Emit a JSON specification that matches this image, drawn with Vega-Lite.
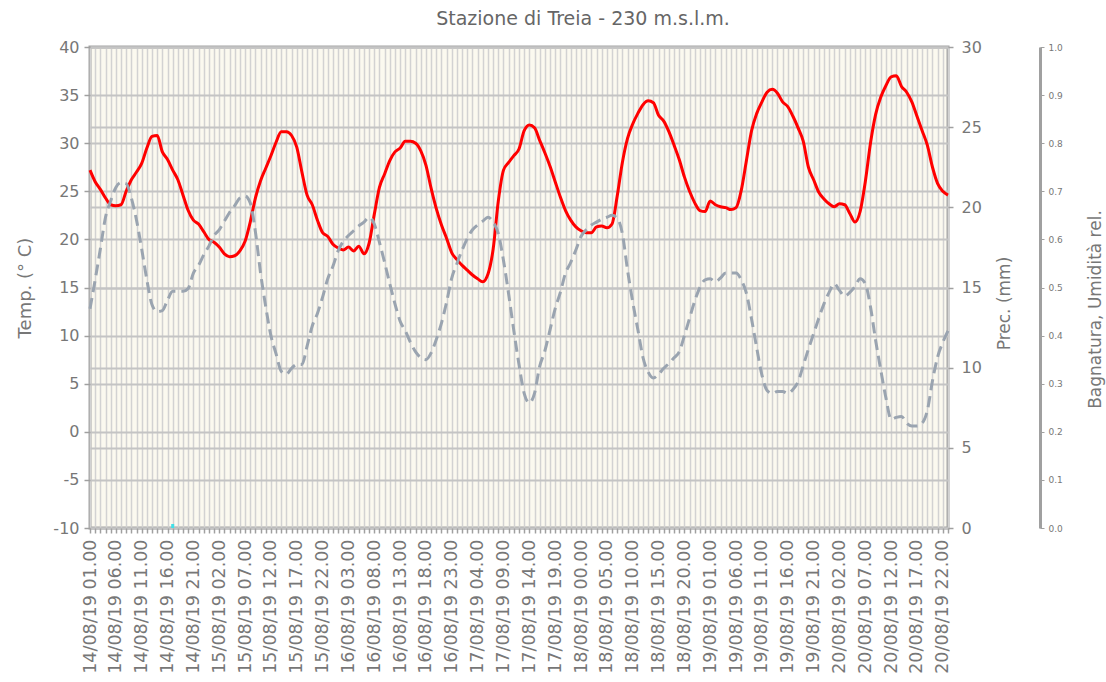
{
"$schema": "https://vega.github.io/schema/vega-lite/v6.json",
"width": 858, "height": 481,
"autosize": {"type": "none"},
"padding": {"left": 90, "top": 47, "right": 158, "bottom": 154},
"background": "white",
"title": {"text": "Stazione di Treia - 230 m.s.l.m.", "font": "DejaVu Sans", "fontSize": 19, "fontWeight": "normal", "color": "#666666", "anchor": "middle", "dx": 64, "offset": 10},
"config": {
  "view": {"fill": "#fbf9ef", "stroke": "#a3a3a3", "strokeWidth": 3},
  "axis": {"labelFont": "DejaVu Sans", "titleFont": "DejaVu Sans", "labelColor": "#777777", "titleColor": "#777777", "titleFontWeight": "normal", "tickColor": "#a0a0a0"}
},
"data": {"values": [
{"t":"14/08/19 01.00","temp":27.2,"hum":0.456},
{"t":"14/08/19 02.00","temp":26.0,"hum":0.516},
{"t":"14/08/19 03.00","temp":25.2,"hum":0.58},
{"t":"14/08/19 04.00","temp":24.3,"hum":0.646},
{"t":"14/08/19 05.00","temp":23.6,"hum":0.68},
{"t":"14/08/19 06.00","temp":23.5,"hum":0.708},
{"t":"14/08/19 07.00","temp":23.6,"hum":0.718},
{"t":"14/08/19 08.00","temp":25.0,"hum":0.716},
{"t":"14/08/19 09.00","temp":26.2,"hum":0.686},
{"t":"14/08/19 10.00","temp":27.0,"hum":0.64},
{"t":"14/08/19 11.00","temp":27.9,"hum":0.58},
{"t":"14/08/19 12.00","temp":29.5,"hum":0.516},
{"t":"14/08/19 13.00","temp":30.7,"hum":0.464},
{"t":"14/08/19 14.00","temp":30.8,"hum":0.45},
{"t":"14/08/19 15.00","temp":29.1,"hum":0.452},
{"t":"14/08/19 16.00","temp":28.3,"hum":0.474},
{"t":"14/08/19 17.00","temp":27.2,"hum":0.492,"prec":0.25},
{"t":"14/08/19 18.00","temp":26.2,"hum":0.492},
{"t":"14/08/19 19.00","temp":24.6,"hum":0.492},
{"t":"14/08/19 20.00","temp":23.0,"hum":0.498},
{"t":"14/08/19 21.00","temp":22.0,"hum":0.53},
{"t":"14/08/19 22.00","temp":21.6,"hum":0.546},
{"t":"14/08/19 23.00","temp":20.8,"hum":0.568},
{"t":"15/08/19 00.00","temp":20.0,"hum":0.586},
{"t":"15/08/19 01.00","temp":19.7,"hum":0.608},
{"t":"15/08/19 02.00","temp":19.2,"hum":0.62},
{"t":"15/08/19 03.00","temp":18.5,"hum":0.638},
{"t":"15/08/19 04.00","temp":18.2,"hum":0.656},
{"t":"15/08/19 05.00","temp":18.3,"hum":0.67},
{"t":"15/08/19 06.00","temp":18.8,"hum":0.686},
{"t":"15/08/19 07.00","temp":19.8,"hum":0.69},
{"t":"15/08/19 08.00","temp":21.8,"hum":0.676},
{"t":"15/08/19 09.00","temp":24.3,"hum":0.616},
{"t":"15/08/19 10.00","temp":26.1,"hum":0.53},
{"t":"15/08/19 11.00","temp":27.4,"hum":0.46},
{"t":"15/08/19 12.00","temp":28.7,"hum":0.4},
{"t":"15/08/19 13.00","temp":30.1,"hum":0.362},
{"t":"15/08/19 14.00","temp":31.2,"hum":0.326},
{"t":"15/08/19 15.00","temp":31.2,"hum":0.32},
{"t":"15/08/19 16.00","temp":30.8,"hum":0.332},
{"t":"15/08/19 17.00","temp":29.6,"hum":0.34},
{"t":"15/08/19 18.00","temp":27.0,"hum":0.34},
{"t":"15/08/19 19.00","temp":24.6,"hum":0.378},
{"t":"15/08/19 20.00","temp":23.6,"hum":0.42},
{"t":"15/08/19 21.00","temp":22.0,"hum":0.446},
{"t":"15/08/19 22.00","temp":20.7,"hum":0.48},
{"t":"15/08/19 23.00","temp":20.3,"hum":0.518},
{"t":"16/08/19 00.00","temp":19.5,"hum":0.544},
{"t":"16/08/19 01.00","temp":19.1,"hum":0.576},
{"t":"16/08/19 02.00","temp":18.9,"hum":0.596},
{"t":"16/08/19 03.00","temp":19.2,"hum":0.608},
{"t":"16/08/19 04.00","temp":18.8,"hum":0.618},
{"t":"16/08/19 05.00","temp":19.3,"hum":0.628},
{"t":"16/08/19 06.00","temp":18.5,"hum":0.636},
{"t":"16/08/19 07.00","temp":19.6,"hum":0.646},
{"t":"16/08/19 08.00","temp":22.6,"hum":0.632},
{"t":"16/08/19 09.00","temp":25.4,"hum":0.594},
{"t":"16/08/19 10.00","temp":26.8,"hum":0.552},
{"t":"16/08/19 11.00","temp":28.2,"hum":0.508},
{"t":"16/08/19 12.00","temp":29.1,"hum":0.466},
{"t":"16/08/19 13.00","temp":29.5,"hum":0.43},
{"t":"16/08/19 14.00","temp":30.2,"hum":0.41},
{"t":"16/08/19 15.00","temp":30.2,"hum":0.386},
{"t":"16/08/19 16.00","temp":30.0,"hum":0.366},
{"t":"16/08/19 17.00","temp":29.2,"hum":0.354},
{"t":"16/08/19 18.00","temp":27.7,"hum":0.35},
{"t":"16/08/19 19.00","temp":25.3,"hum":0.364},
{"t":"16/08/19 20.00","temp":23.2,"hum":0.392},
{"t":"16/08/19 21.00","temp":21.5,"hum":0.426},
{"t":"16/08/19 22.00","temp":20.1,"hum":0.47},
{"t":"16/08/19 23.00","temp":18.6,"hum":0.52},
{"t":"17/08/19 00.00","temp":17.9,"hum":0.55},
{"t":"17/08/19 01.00","temp":17.3,"hum":0.578},
{"t":"17/08/19 02.00","temp":16.8,"hum":0.602},
{"t":"17/08/19 03.00","temp":16.3,"hum":0.62},
{"t":"17/08/19 04.00","temp":15.9,"hum":0.63},
{"t":"17/08/19 05.00","temp":15.6,"hum":0.638},
{"t":"17/08/19 06.00","temp":16.4,"hum":0.646},
{"t":"17/08/19 07.00","temp":19.0,"hum":0.636},
{"t":"17/08/19 08.00","temp":24.0,"hum":0.612},
{"t":"17/08/19 09.00","temp":27.2,"hum":0.556},
{"t":"17/08/19 10.00","temp":28.0,"hum":0.486},
{"t":"17/08/19 11.00","temp":28.7,"hum":0.41},
{"t":"17/08/19 12.00","temp":29.4,"hum":0.34},
{"t":"17/08/19 13.00","temp":31.3,"hum":0.28},
{"t":"17/08/19 14.00","temp":31.9,"hum":0.26},
{"t":"17/08/19 15.00","temp":31.6,"hum":0.28},
{"t":"17/08/19 16.00","temp":30.3,"hum":0.336},
{"t":"17/08/19 17.00","temp":29.0,"hum":0.368},
{"t":"17/08/19 18.00","temp":27.6,"hum":0.412},
{"t":"17/08/19 19.00","temp":26.0,"hum":0.456},
{"t":"17/08/19 20.00","temp":24.4,"hum":0.49},
{"t":"17/08/19 21.00","temp":23.0,"hum":0.53},
{"t":"17/08/19 22.00","temp":22.0,"hum":0.552},
{"t":"17/08/19 23.00","temp":21.3,"hum":0.578},
{"t":"18/08/19 00.00","temp":20.9,"hum":0.606},
{"t":"18/08/19 01.00","temp":20.7,"hum":0.62},
{"t":"18/08/19 02.00","temp":20.7,"hum":0.63},
{"t":"18/08/19 03.00","temp":21.3,"hum":0.636},
{"t":"18/08/19 04.00","temp":21.4,"hum":0.642},
{"t":"18/08/19 05.00","temp":21.2,"hum":0.646},
{"t":"18/08/19 06.00","temp":21.6,"hum":0.65},
{"t":"18/08/19 07.00","temp":24.5,"hum":0.644},
{"t":"18/08/19 08.00","temp":28.0,"hum":0.612},
{"t":"18/08/19 09.00","temp":30.5,"hum":0.536},
{"t":"18/08/19 10.00","temp":32.0,"hum":0.47},
{"t":"18/08/19 11.00","temp":33.1,"hum":0.412},
{"t":"18/08/19 12.00","temp":34.0,"hum":0.354},
{"t":"18/08/19 13.00","temp":34.4,"hum":0.324},
{"t":"18/08/19 14.00","temp":34.2,"hum":0.312},
{"t":"18/08/19 15.00","temp":32.9,"hum":0.32},
{"t":"18/08/19 16.00","temp":32.3,"hum":0.332},
{"t":"18/08/19 17.00","temp":31.2,"hum":0.342},
{"t":"18/08/19 18.00","temp":29.8,"hum":0.354},
{"t":"18/08/19 19.00","temp":28.3,"hum":0.366},
{"t":"18/08/19 20.00","temp":26.5,"hum":0.4},
{"t":"18/08/19 21.00","temp":25.0,"hum":0.436},
{"t":"18/08/19 22.00","temp":23.8,"hum":0.472},
{"t":"18/08/19 23.00","temp":23.0,"hum":0.5},
{"t":"19/08/19 00.00","temp":22.9,"hum":0.516},
{"t":"19/08/19 01.00","temp":24.0,"hum":0.518},
{"t":"19/08/19 02.00","temp":23.6,"hum":0.512},
{"t":"19/08/19 03.00","temp":23.4,"hum":0.52},
{"t":"19/08/19 04.00","temp":23.3,"hum":0.53},
{"t":"19/08/19 05.00","temp":23.1,"hum":0.53},
{"t":"19/08/19 06.00","temp":23.3,"hum":0.53},
{"t":"19/08/19 07.00","temp":25.1,"hum":0.516},
{"t":"19/08/19 08.00","temp":28.2,"hum":0.488},
{"t":"19/08/19 09.00","temp":31.3,"hum":0.434},
{"t":"19/08/19 10.00","temp":33.1,"hum":0.374},
{"t":"19/08/19 11.00","temp":34.3,"hum":0.318},
{"t":"19/08/19 12.00","temp":35.3,"hum":0.286},
{"t":"19/08/19 13.00","temp":35.6,"hum":0.28},
{"t":"19/08/19 14.00","temp":35.2,"hum":0.284},
{"t":"19/08/19 15.00","temp":34.3,"hum":0.284},
{"t":"19/08/19 16.00","temp":33.8,"hum":0.28},
{"t":"19/08/19 17.00","temp":32.8,"hum":0.288},
{"t":"19/08/19 18.00","temp":31.6,"hum":0.304},
{"t":"19/08/19 19.00","temp":30.2,"hum":0.338},
{"t":"19/08/19 20.00","temp":27.5,"hum":0.372},
{"t":"19/08/19 21.00","temp":26.2,"hum":0.404},
{"t":"19/08/19 22.00","temp":24.9,"hum":0.436},
{"t":"19/08/19 23.00","temp":24.2,"hum":0.466},
{"t":"20/08/19 00.00","temp":23.7,"hum":0.49},
{"t":"20/08/19 01.00","temp":23.4,"hum":0.508},
{"t":"20/08/19 02.00","temp":23.7,"hum":0.494},
{"t":"20/08/19 03.00","temp":23.6,"hum":0.482},
{"t":"20/08/19 04.00","temp":22.7,"hum":0.49},
{"t":"20/08/19 05.00","temp":21.8,"hum":0.502},
{"t":"20/08/19 06.00","temp":22.9,"hum":0.518},
{"t":"20/08/19 07.00","temp":26.0,"hum":0.508},
{"t":"20/08/19 08.00","temp":30.0,"hum":0.46},
{"t":"20/08/19 09.00","temp":33.0,"hum":0.39},
{"t":"20/08/19 10.00","temp":34.8,"hum":0.328},
{"t":"20/08/19 11.00","temp":36.0,"hum":0.27},
{"t":"20/08/19 12.00","temp":36.9,"hum":0.226},
{"t":"20/08/19 13.00","temp":37.0,"hum":0.23},
{"t":"20/08/19 14.00","temp":35.9,"hum":0.232},
{"t":"20/08/19 15.00","temp":35.3,"hum":0.218},
{"t":"20/08/19 16.00","temp":34.3,"hum":0.212},
{"t":"20/08/19 17.00","temp":32.8,"hum":0.212},
{"t":"20/08/19 18.00","temp":31.3,"hum":0.218},
{"t":"20/08/19 19.00","temp":29.8,"hum":0.244},
{"t":"20/08/19 20.00","temp":27.5,"hum":0.306},
{"t":"20/08/19 21.00","temp":25.8,"hum":0.356},
{"t":"20/08/19 22.00","temp":25.0,"hum":0.386},
{"t":"20/08/19 23.00","temp":24.6,"hum":0.41}
]},
"encoding": {
  "x": {"field": "t", "type": "ordinal", "sort": null, "scale": {"type": "point", "padding": 0},
    "axis": {"title": null, "labelExpr": "round(datum.index*166) % 5 == 0 ? datum.label : ''", "labelAngle": 270, "labelFontSize": 17.5, "labelPadding": 6, "labelOverlap": false, "labelBound": false, "grid": true, "gridColor": "#d2d2d2", "gridWidth": 1.5, "tickSize": 5, "tickWidth": 1.5, "domain": false}}
},
"layer": [
  {"mark": {"type": "line", "color": "#ff0000", "strokeWidth": 3, "interpolate": "monotone"},
   "encoding": {"y": {"field": "temp", "type": "quantitative", "scale": {"domain": [-10, 40], "nice": false, "zero": false},
     "axis": {"orient": "left", "title": "Temp. (° C)", "values": [-10,-5,0,5,10,15,20,25,30,35,40], "labelExpr": "'' + datum.value", "grid": true, "gridColor": "#c4c4c4", "gridWidth": 2, "domain": false, "tickSize": 6, "tickWidth": 1.5, "labelFontSize": 16, "labelPadding": 5, "titleFontSize": 18, "titlePadding": 18}}}},
  {"mark": {"type": "bar", "color": "#40e0e8", "width": 3},
   "encoding": {"y": {"field": "prec", "type": "quantitative", "scale": {"domain": [0, 30], "nice": false},
     "axis": {"orient": "right", "title": "Prec. (mm)", "values": [0,5,10,15,20,25,30], "grid": true, "gridColor": "#c4c4c4", "gridWidth": 2, "domain": false, "tickSize": 5, "tickWidth": 1.5, "labelFontSize": 16, "labelPadding": 8, "titleFontSize": 17, "titleAngle": 270, "titlePadding": 32, "titleY": 256}}}},
  {"mark": {"type": "line", "color": "#9aa4b0", "strokeWidth": 3, "strokeDash": [11, 6], "interpolate": "monotone"},
   "encoding": {"y": {"field": "hum", "type": "quantitative", "scale": {"domain": [0, 1], "nice": false},
     "axis": {"orient": "right", "offset": 92, "title": "Bagnatura, Umidità rel.", "values": [0,0.1,0.2,0.3,0.4,0.5,0.6,0.7,0.8,0.9,1], "format": ".1f", "grid": false, "domain": true, "domainColor": "#a0a0a0", "domainWidth": 3, "tickSize": 4, "tickWidth": 1, "labelFontSize": 9, "labelPadding": 4, "titleFontSize": 17, "titleAngle": 270, "titlePadding": 42, "titleY": 262}}}}
],
"resolve": {"scale": {"y": "independent"}}
}
